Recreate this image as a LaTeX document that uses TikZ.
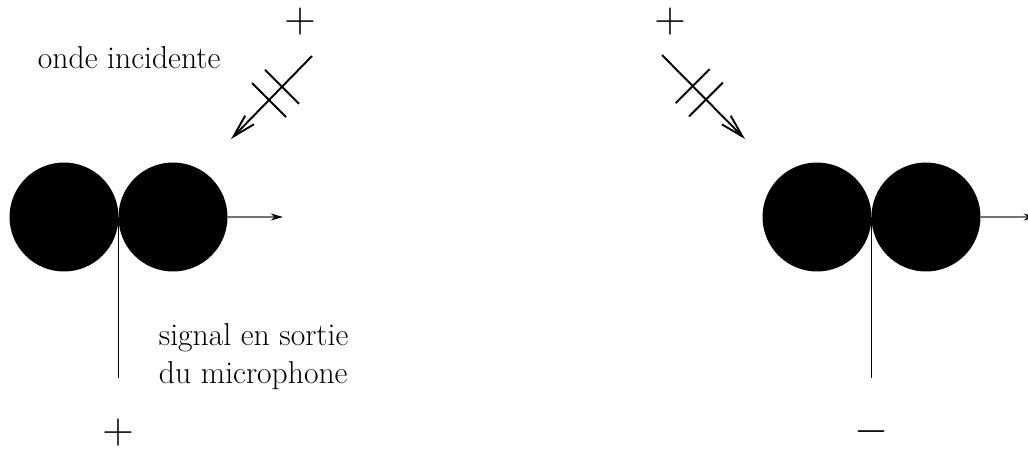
\documentclass[tikz,border=0pt]{standalone}
\usepackage{tikz}
\usetikzlibrary{arrows.meta, positioning, calc}

\begin{document}
\begin{tikzpicture}[
      x=0.02cm, y=-0.02cm,
      line width=1.1pt,
      lbl/.style={font=\fontsize{18}{21.5}\selectfont, inner sep=0pt},
      sgn/.style={font=\Huge, inner sep=0pt},
      mic/.style={
        circle,
        fill=black,
        minimum size=2.18cm,
        inner sep=0pt,
        outer sep=0pt
      },
      axis/.style={
        draw=black!55,
        line width=0.8pt,
        -{Stealth[length=7pt, width=4pt, black]}
      },
      wave/.style={-{Straight Barb[length=13pt, width=7pt]}},
      tick/.style={line cap=butt}
    ]
    \useasboundingbox (0,0) rectangle (1028,451);
    % left microphone
    \node[mic] (mL1) at (64,217) {};
    \node[mic, right=0pt of mL1] (mL2) {};
    \coordinate (axL) at (283,217);
    \coordinate (outL) at ($(mL1.east)+(0,161)$);
    \draw[axis] (mL2.east) -- (axL);
    \draw (mL1.east) -- (outL);
    \node[sgn] (sgnL) at (118,433) {$+$};
    \node[sgn] (srcLsgn) at (300,22) {$+$};
    \coordinate (srcL) at (312,56);
    \coordinate (tipL) at (231,139);
    \draw[wave] (srcL) -- (tipL) coordinate[pos=0.37] (tL1) coordinate[pos=0.53] (tL2);
    \draw[tick] ($(tL1)+(-17,-17)$) -- ($(tL1)+(17,17)$);
    \draw[tick] ($(tL2)+(-17,-17)$) -- ($(tL2)+(17,17)$);
    \node[lbl, anchor=base west] (inc) at (37,68) {onde incidente};
    \node[lbl, anchor=base west, align=left] (sig) at (158,383) {signal en sortie\\du microphone};
    % right microphone
    \node[mic] (mR1) at (817,217) {};
    \node[mic, right=0pt of mR1] (mR2) {};
    \coordinate (axR) at (1036,217);
    \coordinate (outR) at ($(mR1.east)+(0,161)$);
    \draw[axis] (mR2.east) -- (axR);
    \draw (mR1.east) -- (outR);
    \node[sgn] (sgnR) at (871,432) {$-$};
    \node[sgn] (srcRsgn) at (670,22) {$+$};
    \coordinate (srcR) at (662,55);
    \coordinate (tipR) at (745,139);
    \draw[wave] (srcR) -- (tipR) coordinate[pos=0.37] (tR1) coordinate[pos=0.53] (tR2);
    \draw[tick] ($(tR1)+(17,-17)$) -- ($(tR1)+(-17,17)$);
    \draw[tick] ($(tR2)+(17,-17)$) -- ($(tR2)+(-17,17)$);
  \end{tikzpicture}
\end{document}
